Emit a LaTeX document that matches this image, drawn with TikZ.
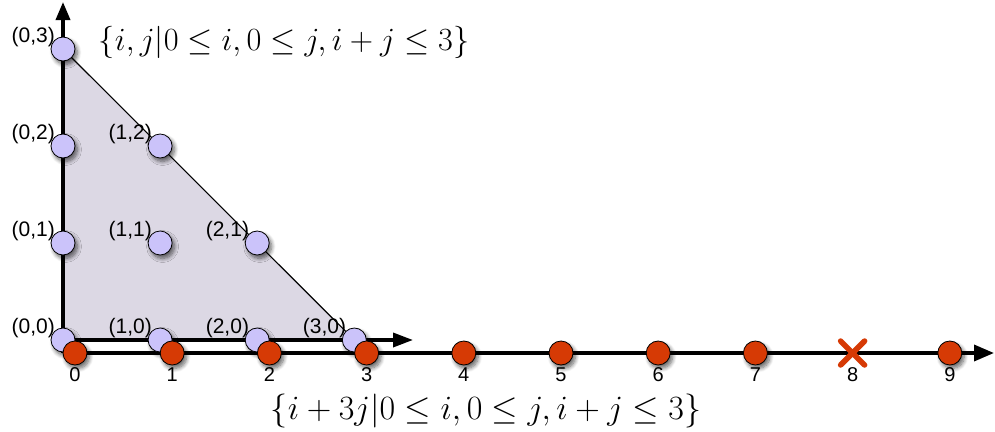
\RequirePackage{fix-cm}
\documentclass[tikz,border=0pt]{standalone}
\usepackage{fontspec}
\newfontfamily\labfont{Liberation Sans}
\usetikzlibrary{arrows.meta,shadows.blur}
\definecolor{lilac}{RGB}{203,195,250}
\definecolor{trifill}{RGB}{220,216,228}
\definecolor{redc}{RGB}{214,58,5}
\begin{document}
\begin{tikzpicture}[x=1pt,y=-1pt,
  axis/.style={line width=3.5pt},
  dotbase/.style={circle, draw=black, line width=0.8pt, minimum size=24pt, inner sep=0pt,
    blur shadow={shadow xshift=2.5pt, shadow yshift=-3.5pt, shadow blur steps=8, shadow blur radius=4pt, shadow opacity=60}},
  lil/.style={dotbase, fill=lilac},
  rdot/.style={dotbase, fill=redc},
  plab/.style={font=\labfont\fontsize{21}{24}\selectfont, inner sep=0pt, anchor=east},
  nlab/.style={font=\labfont\fontsize{20}{24}\selectfont, inner sep=0pt},
]
\useasboundingbox (0,0) rectangle (995,431);
% lattice coordinates
\foreach \i in {0,...,3}{
  \foreach \j in {0,...,3}{
    \coordinate (p\i\j) at ({63+97.1*\i},{340-97*\j});
  }
}
\coordinate (o) at (63,353);
\coordinate (ytip) at (63,2);
\coordinate (xtip) at (413,340);
\coordinate (ltip) at (994,353);
% triangle region
\fill[trifill] (p00) -- (p03) -- (p30) -- cycle;
\draw[line width=1.1pt] (p03) -- (p30);
% axes
\draw[axis, -{Triangle[length=18pt,width=14pt]}] (o) -- (ytip);
\draw[axis, -{Triangle[length=20pt,width=14pt]}] (p00) -- (xtip);
\draw[axis, -{Triangle[length=20pt,width=16pt]}] (o) -- (ltip);
% lilac points
\foreach \i/\j in {0/0,1/0,2/0,3/0,0/1,1/1,2/1,0/2,1/2,0/3}{
  \node[lil] (n\i\j) at (p\i\j) {};
  \node[plab] (l\i\j) at ([xshift=-8pt,yshift=12pt]p\i\j) {(\i,\j)};
}
% red points
\foreach \k in {0,...,9}{
  \coordinate (r\k) at ({75+97.2*\k},353);
}
\foreach \k in {0,1,2,3,4,5,6,7,9}{
  \node[rdot] (m\k) at (r\k) {};
}
\foreach \k in {0,...,9}{
  \node[nlab] (t\k) at ([yshift=-22pt]r\k) {\k};
}
% cross at 8
\draw[redc, line width=5.5pt, line cap=round] ([xshift=-12pt,yshift=12pt]r8) -- ([xshift=12pt,yshift=-12pt]r8);
\draw[redc, line width=5.5pt, line cap=round] ([xshift=-12pt,yshift=-12pt]r8) -- ([xshift=12pt,yshift=12pt]r8);
% set descriptions
\node[font=\fontsize{32.3}{38}\selectfont, inner sep=0pt] (s1) at (284,42) {$\{i,j|0\leq i,0\leq j,i+j\leq 3\}$};
\node[font=\fontsize{34}{40}\selectfont, inner sep=0pt] (s2) at (486,411) {$\{i+3j|0\leq i,0\leq j,i+j\leq 3\}$};
\end{tikzpicture}
\end{document}
